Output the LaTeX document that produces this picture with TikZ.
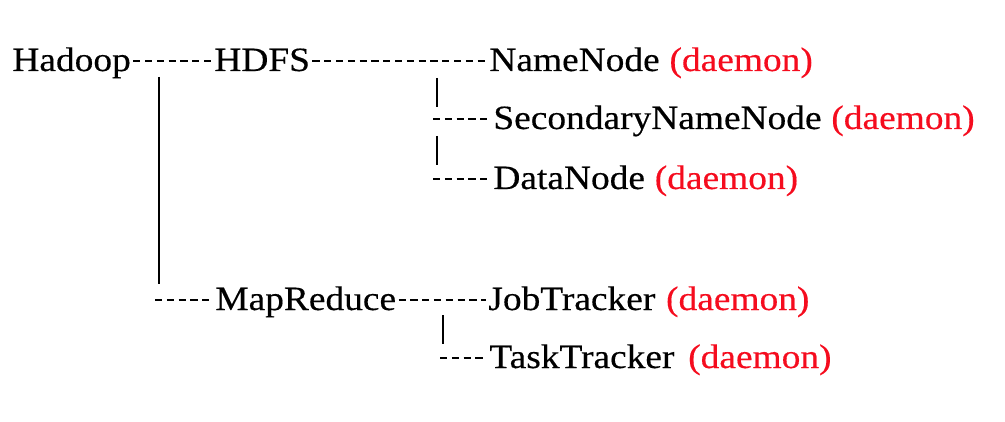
\documentclass[tikz,border=0pt]{standalone}
\usepackage{fontspec}
\setmainfont{Liberation Serif}[FakeStretch=1.1,FakeBold=0.4]
\definecolor{daemonred}{RGB}{245,12,30}
\begin{document}
\begin{tikzpicture}[x=0.5pt,y=-0.5pt,
  lbl/.style={anchor=base west,inner sep=0pt,font=\fontsize{17}{20}\selectfont},
  dmn/.style={lbl,text=daemonred},
  dl/.style={line width=1.2pt,dash pattern=on 3.6pt off 2.3pt},
  vl/.style={line width=1.1pt}]
\useasboundingbox (0,0) rectangle (1005,422);
% labels
\node[lbl] (hadoop) at (12,71) {Hadoop};
\node[lbl] (hdfs) at (214,71) {HDFS};
\node[lbl] (nn) at (489,71) {NameNode};
\node[dmn] (nnd) at ([shift={(9,0)}]nn.base east) {(daemon)};
\node[lbl] (snn) at (493,129) {SecondaryNameNode};
\node[dmn] (snnd) at ([shift={(9,0)}]snn.base east) {(daemon)};
\node[lbl] (dn) at (493,189) {DataNode};
\node[dmn] (dnd) at ([shift={(9,0)}]dn.base east) {(daemon)};
\node[lbl] (mr) at (215,310) {MapReduce};
\node[lbl] (jt) at (488,310) {JobTracker};
\node[dmn] (jtd) at ([shift={(10,0)}]jt.base east) {(daemon)};
\node[lbl] (tt) at (489,368) {TaskTracker};
\node[dmn] (ttd) at ([shift={(13,0)}]tt.base east) {(daemon)};
% free ends
\coordinate (mainTop) at (159,77);
\coordinate (mainBot) at (159,284);
\coordinate (mrStart) at (155,300);
\coordinate (barAtop) at (437,78);
\coordinate (barAbot) at (437,107);
\coordinate (snnStart) at (433,119);
\coordinate (barBtop) at (437,136);
\coordinate (barBbot) at (437,165);
\coordinate (dnStart) at (433,179);
\coordinate (barCtop) at (443,315);
\coordinate (barCbot) at (443,344);
\coordinate (ttStart) at (440,358);
% dashed connectors
\draw[dl] ([shift={(2,-10)}]hadoop.base east) -- ([shift={(-2,-10)}]hdfs.base west);
\draw[dl] ([shift={(2,-10)}]hdfs.base east) -- ([shift={(-2,-10)}]nn.base west);
\draw[dl] (snnStart) -- ([shift={(-2,-10)}]snn.base west);
\draw[dl] (dnStart) -- ([shift={(-2,-10)}]dn.base west);
\draw[dl] (mrStart) -- ([shift={(-2,-10)}]mr.base west);
\draw[dl] ([shift={(2,-10)}]mr.base east) -- ([shift={(-2,-10)}]jt.base west);
\draw[dl] (ttStart) -- ([shift={(-2,-10)}]tt.base west);
% vertical connectors
\draw[vl] (mainTop) -- (mainBot);
\draw[vl] (barAtop) -- (barAbot);
\draw[vl] (barBtop) -- (barBbot);
\draw[vl] (barCtop) -- (barCbot);
\end{tikzpicture}
\end{document}
